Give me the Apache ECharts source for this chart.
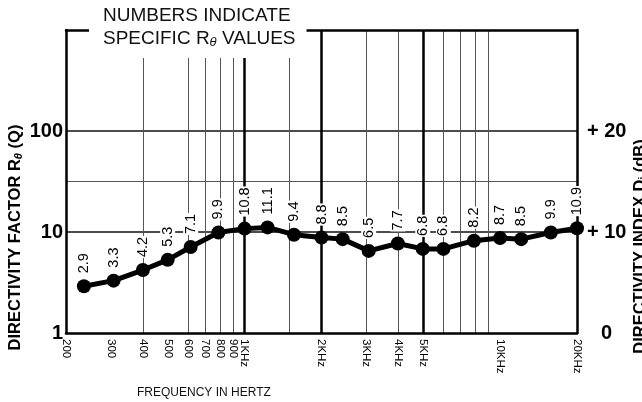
<!DOCTYPE html>
<html>
<head>
<meta charset="utf-8">
<title>Directivity factor</title>
<script src="https://cdn.jsdelivr.net/npm/echarts@6/dist/echarts.min.js"></script>
<style>
  html, body { margin: 0; padding: 0; background: #fff; }
  #chart { width: 642px; height: 402px; }
</style>
</head>
<body>
<div id="chart"></div>
<script>
// measured points: frequency (Hz) and directivity factor Q
var freqs = [235, 307, 400, 500, 615, 790, 1000, 1230, 1560, 2000, 2420, 3060, 3980, 4980, 6000, 7900, 10000, 12100, 15800, 20000];
var qValues = [2.9, 3.3, 4.2, 5.3, 7.1, 9.9, 10.8, 11.1, 9.4, 8.8, 8.5, 6.5, 7.7, 6.8, 6.8, 8.2, 8.7, 8.5, 9.9, 10.9];

// x axis ticks / grid
var freqTicks = [200, 300, 400, 500, 600, 700, 800, 900, 1000, 2000, 3000, 4000, 5000, 10000, 20000];
var freqTickLabels = ['200', '300', '400', '500', '600', '700', '800', '900', '1KHz', '2KHz', '3KHz', '4KHz', '5KHz', '10KHz', '20KHz'];
var minorFreqLines = [300, 400, 600, 700, 800, 900, 1500, 3000, 4000, 6000, 7000, 8000, 9000, 15000];
var majorFreqLines = [500, 1000, 2000, 5000, 10000];

// y axes ticks / grid
var qTicks = [1, 10, 100];
var qLines = [1, 10, 100, 1000];
var dbTicks = [0, 10, 20];
var dbTickLabels = ['{z|0}', '+ 10', '+ 20'];
var dbMinorLines = [5, 15, 25];

var FONT = 'Liberation Sans, Arial, Helvetica, sans-serif';
var chart = echarts.init(document.getElementById('chart'), null, { renderer: 'canvas' });

var points = freqs.map(function (f, i) { return [f, qValues[i]]; });

var option = {
    animation: false,
    backgroundColor: '#fff',
    textStyle: { fontFamily: FONT, color: '#111' },
    title: [{
        text: 'NUMBERS INDICATE\nSPECIFIC R{s|θ} VALUES',
        left: 89,
        top: 0,
        padding: [4, 11, 8, 14],
        backgroundColor: '#fff',
        z: 6,
        textStyle: {
            fontFamily: FONT, fontSize: 19, fontWeight: 'normal', color: '#111', lineHeight: 23,
            rich: { s: { fontFamily: FONT, fontSize: 13, fontStyle: 'italic', color: '#111', lineHeight: 23, padding: [7, 0, 0, 0] } }
        }
    }, {
        text: 'FREQUENCY IN HERTZ',
        left: 137,
        top: 387,
        padding: 0,
        textStyle: { fontFamily: FONT, fontSize: 12, fontWeight: 'normal', color: '#111' }
    }],
    grid: { left: 66, right: 65, top: 30, bottom: 69, outerBoundsMode: 'none' },
    xAxis: [{
        type: 'log',
        logBase: 10,
        min: 200,
        max: 20000,
        position: 'bottom',
        axisLine: { show: true, lineStyle: { color: '#000', width: 2.5 } },
        axisTick: { show: false, customValues: minorFreqLines },
        splitLine: { show: true, showMinLine: false, showMaxLine: false, lineStyle: { color: '#555', width: 1 } },
        axisLabel: {
            customValues: freqTicks,
            rotate: -90,
            margin: 6,
            fontSize: 11.5,
            fontFamily: FONT,
            color: '#000',
            formatter: function (v) {
                var i = freqTicks.indexOf(Math.round(v));
                return i >= 0 ? freqTickLabels[i] : '';
            }
        }
    }, {
        type: 'log',
        logBase: 10,
        min: 200,
        max: 20000,
        position: 'top',
        axisLine: { show: true, lineStyle: { color: '#000', width: 2.5 } },
        axisTick: { show: false, customValues: majorFreqLines },
        axisLabel: { show: false },
        splitLine: { show: true, showMinLine: false, showMaxLine: false, lineStyle: { color: '#000', width: 2.5 } }
    }],
    yAxis: [{
        type: 'log',
        logBase: 10,
        min: 1,
        max: 1000,
        position: 'left',
        name: '{a|DIRECTIVITY FACTOR R}{s|θ}{a| (Q)}',
        nameLocation: 'middle',
        nameRotate: 90,
        nameMoveOverlap: false,
        nameGap: 42,
        nameTextStyle: {
            padding: [0, 112, 0, 0],
            rich: {
                a: { fontFamily: FONT, fontSize: 16.5, fontWeight: 'bold', color: '#000' },
                s: { fontFamily: FONT, fontSize: 11, fontWeight: 'bold', fontStyle: 'italic', color: '#000', padding: [6, 0, 0, 0] }
            }
        },
        axisLine: { show: true, lineStyle: { color: '#000', width: 2.5 } },
        axisTick: { show: false, customValues: qLines },
        splitLine: { show: true, showMinLine: false, showMaxLine: false, lineStyle: { color: '#111', width: 1.5 } },
        axisLabel: {
            customValues: qTicks,
            margin: 3,
            fontSize: 20,
            fontWeight: 'bold',
            fontFamily: FONT,
            color: '#000'
        }
    }, {
        type: 'value',
        min: 0,
        max: 30,
        position: 'right',
        name: 'DIRECTIVITY INDEX D{s|i} (dB)',
        nameLocation: 'middle',
        nameRotate: 90,
        nameMoveOverlap: false,
        nameGap: 55,
        nameTextStyle: {
            fontFamily: FONT, fontSize: 16.5, fontWeight: 'bold', color: '#000',
            padding: [0, 130, 0, 0],
            rich: { s: { fontFamily: FONT, fontSize: 10, fontWeight: 'bold', color: '#000', padding: [6, 0, 0, 0] } }
        },
        axisLine: { show: true, lineStyle: { color: '#000', width: 2.5 } },
        axisTick: { show: false, customValues: dbMinorLines },
        splitLine: { show: true, showMinLine: false, showMaxLine: false, lineStyle: { color: '#555', width: 1 } },
        axisLabel: {
            customValues: dbTicks,
            margin: 10,
            fontSize: 20,
            fontWeight: 'bold',
            fontFamily: FONT,
            color: '#000',
            align: 'left',
            formatter: function (v) {
                var i = dbTicks.indexOf(Math.round(v));
                return i >= 0 ? dbTickLabels[i] : '';
            },
            rich: { z: { fontSize: 20, fontWeight: 'bold', fontFamily: FONT, color: '#000', padding: [0, 0, 0, 14] } }
        }
    }],
    series: [{
        type: 'line',
        xAxisIndex: 0,
        yAxisIndex: 0,
        data: points,
        z: 5,
        symbol: 'circle',
        symbolSize: 14,
        itemStyle: { color: '#000' },
        lineStyle: { color: '#000', width: 5 },
        label: {
            show: true,
            position: 'top',
            distance: 5,
            rotate: 90,
            align: 'left',
            verticalAlign: 'middle',
            fontFamily: FONT,
            fontSize: 14.5,
            color: '#000',
            backgroundColor: '#fff',
            padding: [0, 1],
            formatter: function (p) { return p.value[1].toFixed(1); }
        }
    }]
};

chart.setOption(option);
</script>
</body>
</html>
